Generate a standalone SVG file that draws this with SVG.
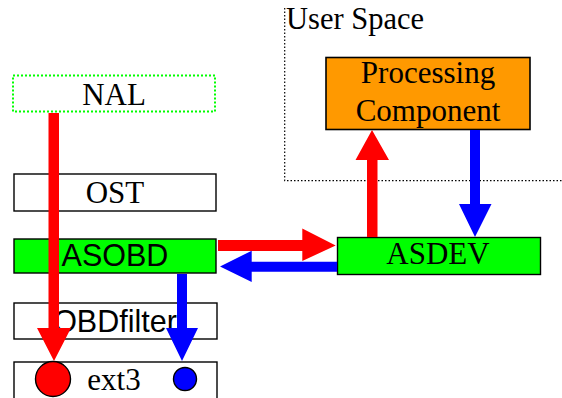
<svg xmlns="http://www.w3.org/2000/svg" width="562" height="398" viewBox="0 0 562 398">
<style>
.box{stroke:#000;stroke-width:1.4}
.serif{font-family:"Liberation Serif","Times New Roman",serif;font-size:31px;fill:#000;text-anchor:middle}
.sans{font-family:"Liberation Sans",Arial,sans-serif;font-size:30.5px;fill:#000;text-anchor:middle}
.red{fill:#ff0000}
.blue{fill:#0000ff}
</style>
<rect width="562" height="398" fill="#fff"/>
<g id="user-space">
<path d="M284.7,8 V180.7 H562" fill="none" stroke="#000" stroke-width="1.2" stroke-dasharray="1.5,2"/>
<text x="286" y="29" style="font-family:'Liberation Serif','Times New Roman',serif;font-size:30.5px;fill:#000">User Space</text>
</g>
<g id="nal">
<rect x="13" y="75.5" width="202" height="36" fill="#fff" stroke="#00ff00" stroke-width="2" stroke-dasharray="2,2"/>
<text class="serif" x="114" y="104.5">NAL</text>
</g>
<g id="ost">
<rect class="box" x="14" y="174" width="202" height="37" fill="#fff"/>
<text class="serif" x="115" y="202.5">OST</text>
</g>
<g id="asobd">
<rect class="box" x="14" y="239" width="202" height="34" fill="#00ff00"/>
<text class="sans" x="115" y="266">ASOBD</text>
</g>
<g id="obdfilter">
<rect class="box" x="14" y="303" width="203" height="36" fill="#fff"/>
<text class="sans" x="115" y="332">OBDfilter</text>
</g>
<g id="ext3">
<rect class="box" x="14" y="362" width="203" height="40" fill="#fff"/>
<text class="serif" x="114" y="390">ext3</text>
<circle cx="53" cy="379" r="17.5" fill="#ff0000" stroke="#000" stroke-width="1.4"/>
<circle cx="185" cy="379" r="11.5" fill="#0000ff" stroke="#000" stroke-width="1.4"/>
</g>
<g id="processing-component">
<rect x="326" y="57.5" width="204" height="72" fill="#ff9900" stroke="#000" stroke-width="1.6"/>
<text class="serif" x="428" y="83">Processing</text>
<text class="serif" x="428" y="120.5">Component</text>
</g>
<g id="asdev">
<rect class="box" x="337.5" y="237.5" width="203" height="37" fill="#00ff00"/>
<text class="serif" x="438" y="263.5">ASDEV</text>
</g>
<g id="connectors">
<polygon class="red" points="48.5,113 59,113 59,328 71,328 54,361 37,328 48.5,328"/>
<polygon class="blue" points="177,274 187,274 187,328 198,328 182,361 166,328 177,328"/>
<polygon class="red" points="218,240 302.3,240 302.3,228.5 335.7,245.5 302.3,261 302.3,251 218,251"/>
<polygon class="blue" points="337,261.7 251.7,261.7 251.7,250.7 220,266.5 251.7,282 251.7,271.7 337,271.7"/>
<polygon class="red" points="367,237 367,160 355.5,160 372,130 389,160 377.5,160 377.5,237"/>
<polygon class="blue" points="470,130 480,130 480,204 491.5,204 475,237 459,204 470,204"/>
</g>
</svg>
